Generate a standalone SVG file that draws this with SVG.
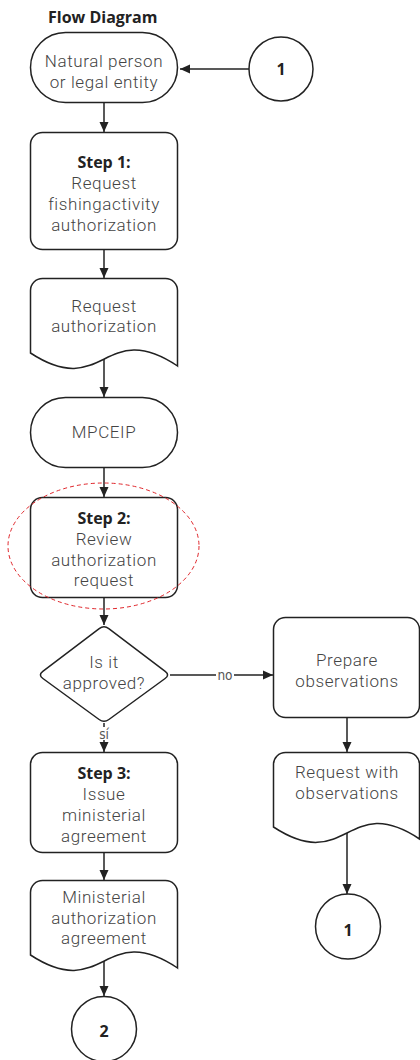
<svg xmlns="http://www.w3.org/2000/svg" width="420" height="1060" viewBox="0 0 420 1060">
  <style>
    .shape { fill: #fff; stroke: #222; stroke-width: 1.5; }
    .wire { fill: none; stroke: #222; stroke-width: 1.5; }
    .txt { font-family: Roboto, "Liberation Sans", sans-serif; font-weight: 300; font-size: 17px; letter-spacing: 0.6px; fill: #444; text-anchor: middle; }
    .bold { font-family: "Open Sans", "Liberation Sans", sans-serif; font-weight: 700; font-size: 16px; fill: #222; text-anchor: middle; }
    .lbl { font-family: "DejaVu Sans Condensed", "DejaVu Sans", sans-serif; font-stretch: condensed; font-size: 13.5px; fill: #555; text-anchor: middle; }
    .focus { fill: none; stroke: #e0262b; stroke-width: 1; stroke-dasharray: 4 3; }
  </style>
  <defs>
    <marker id="arrow" markerUnits="userSpaceOnUse" markerWidth="10" markerHeight="10" refX="10" refY="5" orient="auto">
      <path d="M0,0.5 L10,5 L0,9.5 z" fill="#222"/>
    </marker>
  </defs>

  <rect width="420" height="1060" fill="#fff"/>

  <text id="title" x="48" y="23" class="bold" style="text-anchor:start">Flow Diagram</text>

  <!-- connectors -->
  <g id="connectors">
    <path class="wire" d="M249,69 H180" marker-end="url(#arrow)"/>
    <path class="wire" d="M104,103 V132" marker-end="url(#arrow)"/>
    <path class="wire" d="M104,250 V278" marker-end="url(#arrow)"/>
    <path class="wire" d="M104,359 V397" marker-end="url(#arrow)"/>
    <path class="wire" d="M104,468 V497" marker-end="url(#arrow)"/>
    <path class="wire" d="M104,598 V625" marker-end="url(#arrow)"/>
    <path class="wire" d="M104,723 V752" marker-end="url(#arrow)"/>
    <path class="wire" d="M170,675 H273" marker-end="url(#arrow)"/>
    <path class="wire" d="M347,717 V752" marker-end="url(#arrow)"/>
    <path class="wire" d="M347,833 V894" marker-end="url(#arrow)"/>
    <path class="wire" d="M104,852 V880" marker-end="url(#arrow)"/>
    <path class="wire" d="M104,961 V996" marker-end="url(#arrow)"/>
    <rect x="216" y="668" width="18" height="14" fill="#fff"/>
    <text class="lbl" x="225" y="680">no</text>
    <rect x="98" y="727" width="12" height="13" fill="#fff"/>
    <text class="lbl" x="104" y="739">sí</text>
  </g>

  <g id="start">
    <rect class="shape" x="30.5" y="32.5" width="147" height="70" rx="35"/>
    <text class="txt" x="104" y="67">Natural person</text>
    <text class="txt" x="104" y="88">or legal entity</text>
  </g>

  <g id="connector-in-1">
    <circle class="shape" cx="281" cy="69" r="32"/>
    <text class="bold" x="281" y="75">1</text>
  </g>

  <g id="step1">
    <rect class="shape" x="30.5" y="132.5" width="147" height="117" rx="12"/>
    <text class="bold" x="104" y="168">Step 1:</text>
    <text class="txt" x="104" y="189">Request</text>
    <text class="txt" x="104" y="210">fishingactivity</text>
    <text class="txt" x="104" y="231">authorization</text>
  </g>

  <g id="doc-request">
    <path class="shape" d="M30.5,353 V290.5 A12,12 0 0 1 42.5,278.5 H165.5 A12,12 0 0 1 177.5,290.5 V366 C104,317 104,401 30.5,353 Z"/>
    <text class="txt" x="104" y="312">Request</text>
    <text class="txt" x="104" y="332">authorization</text>
  </g>

  <g id="mpceip">
    <rect class="shape" x="30.5" y="397.5" width="147" height="70" rx="35"/>
    <text class="txt" x="104" y="438">MPCEIP</text>
  </g>

  <g id="step2">
    <rect class="shape" x="30.5" y="497.5" width="147" height="100" rx="12"/>
    <text class="bold" x="104" y="524">Step 2:</text>
    <text class="txt" x="104" y="545">Review</text>
    <text class="txt" x="104" y="566">authorization</text>
    <text class="txt" x="104" y="586">request</text>
    <ellipse class="focus" cx="103.5" cy="546" rx="95.5" ry="63"/>
  </g>

  <g id="decision">
    <path class="shape" d="M108.8,628.6 L165.2,671.4 Q170,675 165.1,678.5 L108.9,719.5 Q104,723 99.1,719.5 L42.9,678.5 Q38,675 42.8,671.4 L99.2,628.6 Q104,625 108.8,628.6 Z"/>
    <text class="txt" x="104" y="668">Is it</text>
    <text class="txt" x="104" y="689">approved?</text>
  </g>

  <g id="prepare">
    <rect class="shape" x="273.5" y="617.5" width="146" height="100" rx="12"/>
    <text class="txt" x="347" y="666">Prepare</text>
    <text class="txt" x="347" y="687">observations</text>
  </g>

  <g id="doc-observations">
    <path class="shape" d="M273.5,827 V764.5 A12,12 0 0 1 285.5,752.5 H407.5 A12,12 0 0 1 419.5,764.5 V839 C347,791 347,875 273.5,827 Z"/>
    <text class="txt" x="347" y="778">Request with</text>
    <text class="txt" x="347" y="799">observations</text>
  </g>

  <g id="connector-out-1">
    <circle class="shape" cx="348" cy="926.5" r="32.5"/>
    <text class="bold" x="348" y="936">1</text>
  </g>

  <g id="step3">
    <rect class="shape" x="30.5" y="752.5" width="147" height="100" rx="12"/>
    <text class="bold" x="104" y="779">Step 3:</text>
    <text class="txt" x="104" y="800">Issue</text>
    <text class="txt" x="104" y="821">ministerial</text>
    <text class="txt" x="104" y="842">agreement</text>
  </g>

  <g id="doc-agreement">
    <path class="shape" d="M30.5,955 V892.5 A12,12 0 0 1 42.5,880.5 H165.5 A12,12 0 0 1 177.5,892.5 V968 C104,919 104,1003 30.5,955 Z"/>
    <text class="txt" x="104" y="903">Ministerial</text>
    <text class="txt" x="104" y="923.5">authorization</text>
    <text class="txt" x="104" y="944">agreement</text>
  </g>

  <g id="connector-out-2">
    <circle class="shape" cx="104" cy="1029" r="32.5"/>
    <text class="bold" x="104" y="1037">2</text>
  </g>
</svg>
